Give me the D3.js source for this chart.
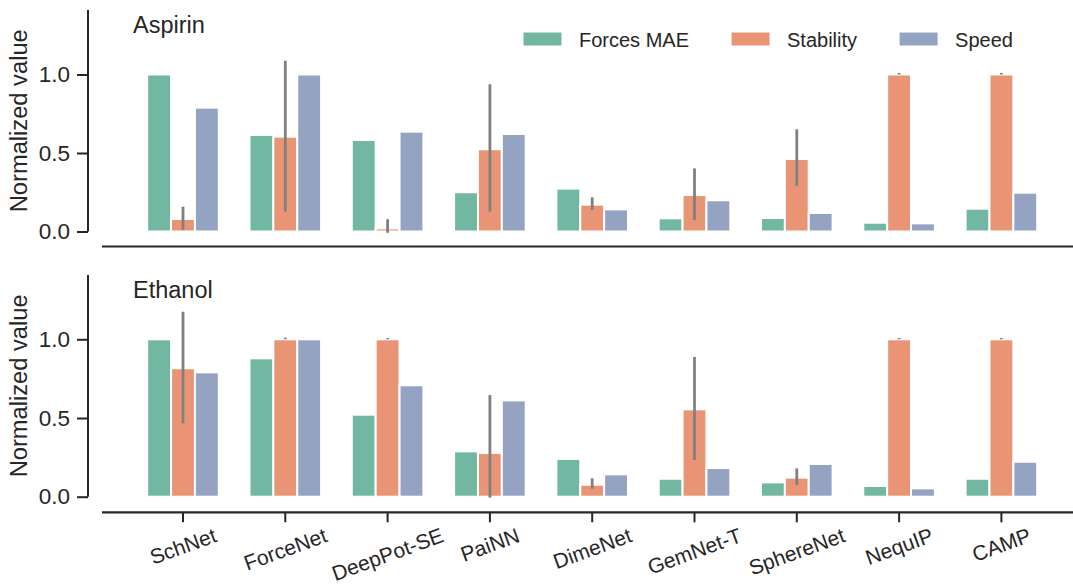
<!DOCTYPE html>
<html>
<head>
<meta charset="utf-8">
<script src="https://cdn.jsdelivr.net/npm/d3@7"></script>
<style>
  body { margin: 0; background: #fff; }
  text { font-family: "Liberation Sans", Arial, sans-serif; fill: #262626; }
</style>
</head>
<body>
<svg width="1073" height="585"></svg>
<script>
// data
const models = ["SchNet", "ForceNet", "DeepPot-SE", "PaiNN", "DimeNet", "GemNet-T", "SphereNet", "NequIP", "CAMP"];
const metrics = ["Forces MAE", "Stability", "Speed"];
const yTicks = [0, 0.5, 1.0];

const aspirinForces    = [1.0, 0.615, 0.583, 0.25, 0.273, 0.084, 0.086, 0.056, 0.145];
const aspirinStability = [0.08, 0.604, 0.02, 0.524, 0.171, 0.232, 0.462, 1.0, 1.0];
const aspirinSpeed     = [0.789, 1.0, 0.636, 0.621, 0.141, 0.199, 0.118, 0.052, 0.247];
const aspirinStabLo    = [0.01, 0.126, -0.008, 0.126, 0.137, 0.073, 0.29, 1.0, 1.0];
const aspirinStabHi    = [0.158, 1.088, 0.078, 0.938, 0.218, 0.402, 0.651, 1.01, 1.01];

const ethanolForces    = [1.0, 0.879, 0.521, 0.288, 0.24, 0.114, 0.091, 0.068, 0.114];
const ethanolStability = [0.816, 1.0, 1.0, 0.278, 0.076, 0.555, 0.121, 1.0, 1.0];
const ethanolSpeed     = [0.79, 1.0, 0.708, 0.612, 0.142, 0.182, 0.208, 0.053, 0.222];
const ethanolStabLo    = [0.466, 1.0, 1.0, -0.006, 0.051, 0.233, 0.074, 1.0, 1.0];
const ethanolStabHi    = [1.175, 1.01, 1.008, 0.646, 0.117, 0.888, 0.18, 1.008, 1.008];

// Set2, desaturated like seaborn bars
const colors = ["#71b7a1", "#e99575", "#95a3c3"];
const ink = "#262626";

const svg = d3.select("svg");

const x = d3.scaleBand()
  .domain(models)
  .range([131.85, 1052.55]);
const xSub = d3.scaleBand()
  .domain(metrics)
  .range([x.bandwidth() * 0.15, x.bandwidth() * 0.85]);
const color = d3.scaleOrdinal().domain(metrics).range(colors);

const panels = [
  { title: "Aspirin", y0: 231.5, y1: 74.5, top: 10, axisY: 246.5,
    vals: [aspirinForces, aspirinStability, aspirinSpeed], lo: aspirinStabLo, hi: aspirinStabHi, legend: true },
  { title: "Ethanol", y0: 496.7, y1: 339.3, top: 275, axisY: 512.3,
    vals: [ethanolForces, ethanolStability, ethanolSpeed], lo: ethanolStabLo, hi: ethanolStabHi, labels: true }
];

panels.forEach(function(p) {
  const y = d3.scaleLinear().domain([0, 1]).range([p.y0, p.y1]);
  const g = svg.append("g");

  // left spine (offset) with ticks
  g.append("line")
    .attr("x1", 88).attr("x2", 88)
    .attr("y1", p.top).attr("y2", y(0))
    .attr("stroke", ink).attr("stroke-width", 2);
  const yAxis = g.append("g")
    .attr("transform", "translate(88,0)")
    .call(d3.axisLeft(y).tickValues(yTicks).tickFormat(d3.format(".1f")).tickSize(11).tickPadding(7));
  yAxis.select(".domain").remove();
  yAxis.selectAll(".tick line").attr("stroke", ink).attr("stroke-width", 2);
  yAxis.selectAll(".tick text")
    .attr("font-size", 22.5)
    .attr("fill", ink)
    .style("font-family", "'Liberation Sans', Arial, sans-serif");

  // y label
  g.append("text")
    .attr("transform", "translate(27," + ((p.top + p.y0) / 2) + ") rotate(-90)")
    .attr("text-anchor", "middle")
    .attr("font-size", 23)
    .attr("textLength", 183)
    .attr("lengthAdjust", "spacingAndGlyphs")
    .text("Normalized value");

  // bottom spine (offset)
  g.append("line")
    .attr("x1", 102).attr("x2", 1073)
    .attr("y1", p.axisY).attr("y2", p.axisY)
    .attr("stroke", ink).attr("stroke-width", 2.2);

  // bars
  const rows = models.map(function(m, i) {
    return metrics.map(function(k, j) { return { model: m, key: k, value: p.vals[j][i] }; });
  });
  g.selectAll(".grp")
    .data(rows)
    .join("g")
      .attr("transform", function(d) { return "translate(" + x(d[0].model) + ",0)"; })
    .selectAll("rect")
    .data(function(d) { return d; })
    .join("rect")
      .attr("x", function(d) { return xSub(d.key); })
      .attr("y", function(d) { return y(d.value); })
      .attr("width", xSub.bandwidth())
      .attr("height", function(d) { return y(0) - y(d.value); })
      .attr("fill", function(d) { return color(d.key); })
      .attr("stroke", "#fff")
      .attr("stroke-width", 2);

  // error bars on stability
  g.selectAll(".err")
    .data(models)
    .join("line")
      .attr("x1", function(d) { return x(d) + xSub("Stability") + xSub.bandwidth() / 2; })
      .attr("x2", function(d) { return x(d) + xSub("Stability") + xSub.bandwidth() / 2; })
      .attr("y1", function(d, i) { return y(p.lo[i]); })
      .attr("y2", function(d, i) { return y(p.hi[i]); })
      .attr("stroke", "#808080")
      .attr("stroke-width", 2.8);

  // panel title
  g.append("text")
    .attr("x", 133).attr("y", p.y1 - 41.5)
    .attr("font-size", 23.5)
    .text(p.title);

  if (p.labels) {
    const tickG = g.selectAll(".xt")
      .data(models)
      .join("g")
        .attr("transform", function(d) { return "translate(" + (x(d) + x.bandwidth() / 2) + "," + p.axisY + ")"; });
    tickG.append("line")
      .attr("y1", 0).attr("y2", 10)
      .attr("stroke", ink).attr("stroke-width", 2);
    tickG.append("text")
      .attr("font-size", 21)
      .attr("text-anchor", "middle")
      .attr("dominant-baseline", "central")
      .text(function(d) { return d; })
      .attr("transform", function() {
        const w = this.getComputedTextLength();
        const a = 20 * Math.PI / 180;
        const half = (w * Math.sin(a) + 0.8 * 21 * Math.cos(a)) / 2;
        return "translate(0," + (14 + half) + ") rotate(-20)";
      });
  }

  if (p.legend) {
    let lx = 523;
    metrics.forEach(function(k) {
      g.append("rect")
        .attr("x", lx).attr("y", 32)
        .attr("width", 39).attr("height", 14)
        .attr("fill", color(k))
        .attr("stroke", "#fff").attr("stroke-width", 1);
      const t = g.append("text")
        .attr("x", lx + 56).attr("y", 46.5)
        .attr("font-size", 20)
        .text(k);
      lx += 56 + t.node().getComputedTextLength() + 42;
    });
  }
});
</script>
</body>
</html>
